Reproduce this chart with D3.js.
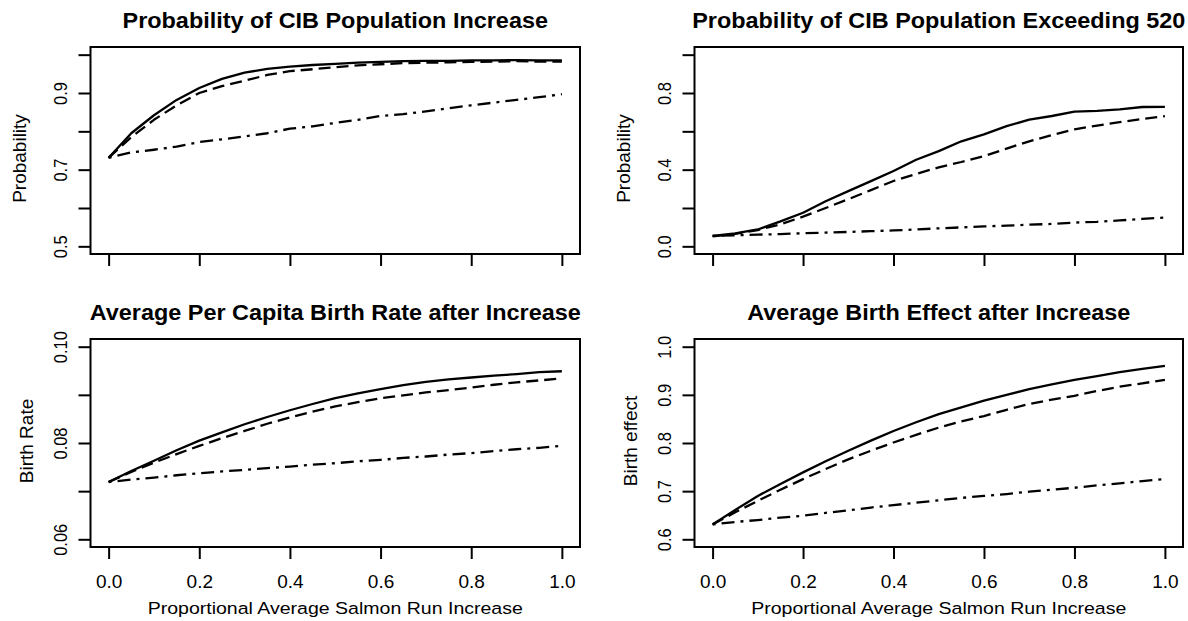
<!DOCTYPE html>
<html>
<head>
<meta charset="utf-8">
<script src="https://cdn.jsdelivr.net/npm/d3@7"></script>
<style>
body { margin: 0; background: #fff; }
svg { display: block; font-family: "Liberation Sans", Arial, Helvetica, sans-serif; }
</style>
</head>
<body>
<svg id="chart" width="1188" height="621"></svg>
<script>
// proportional average salmon run increase
var runIncrease = [0, 0.05, 0.1, 0.15, 0.2, 0.25, 0.3, 0.35, 0.4, 0.45, 0.5,
                   0.55, 0.6, 0.65, 0.7, 0.75, 0.8, 0.85, 0.9, 0.95, 1.0];

// probability of population increase
var incSolid   = [0.731, 0.795, 0.842, 0.882, 0.913, 0.937, 0.953, 0.963, 0.969, 0.973, 0.976,
                  0.979, 0.981, 0.983, 0.984, 0.984, 0.985, 0.985, 0.986, 0.985, 0.985];
var incDashed  = [0.731, 0.785, 0.830, 0.868, 0.900, 0.918, 0.932, 0.947, 0.957, 0.962, 0.967,
                  0.972, 0.975, 0.978, 0.979, 0.980, 0.981, 0.982, 0.983, 0.982, 0.982];
var incDotDash = [0.731, 0.745, 0.752, 0.760, 0.772, 0.779, 0.787, 0.795, 0.807, 0.813, 0.822,
                  0.830, 0.840, 0.845, 0.852, 0.860, 0.868, 0.875, 0.882, 0.889, 0.897];

// probability of exceeding 520
var excSolid   = [0.055, 0.068, 0.088, 0.130, 0.175, 0.235, 0.288, 0.340, 0.393, 0.452, 0.497,
                  0.548, 0.584, 0.627, 0.661, 0.680, 0.703, 0.707, 0.715, 0.727, 0.728];
var excDashed  = [0.052, 0.065, 0.085, 0.115, 0.155, 0.200, 0.246, 0.293, 0.341, 0.378, 0.412,
                  0.440, 0.471, 0.510, 0.548, 0.580, 0.610, 0.630, 0.648, 0.665, 0.679];
var excDotDash = [0.055, 0.058, 0.061, 0.064, 0.068, 0.072, 0.075, 0.079, 0.083, 0.088, 0.094,
                  0.099, 0.104, 0.108, 0.113, 0.117, 0.124, 0.128, 0.135, 0.143, 0.150];

// per capita birth rate
var rateSolid   = [0.0719, 0.0742, 0.0763, 0.0785, 0.0805, 0.0822, 0.0839, 0.0854, 0.0868, 0.0881, 0.0893,
                   0.0903, 0.0912, 0.0920, 0.0927, 0.0932, 0.0936, 0.0940, 0.0943, 0.0947, 0.0949];
var rateDashed  = [0.0719, 0.0740, 0.0759, 0.0777, 0.0794, 0.0810, 0.0825, 0.0840, 0.0853, 0.0865, 0.0876,
                   0.0885, 0.0893, 0.0899, 0.0905, 0.0910, 0.0915, 0.0921, 0.0926, 0.0930, 0.0934];
var rateDotDash = [0.0719, 0.0724, 0.0728, 0.0733, 0.0737, 0.0741, 0.0744, 0.0748, 0.0751, 0.0755, 0.0758,
                   0.0762, 0.0765, 0.0769, 0.0772, 0.0776, 0.0779, 0.0783, 0.0787, 0.0790, 0.0794];

// birth effect
var effSolid   = [0.631, 0.661, 0.690, 0.715, 0.739, 0.762, 0.784, 0.805, 0.825, 0.843, 0.860,
                  0.874, 0.888, 0.900, 0.912, 0.922, 0.931, 0.939, 0.947, 0.954, 0.960];
var effDashed  = [0.631, 0.656, 0.680, 0.703, 0.725, 0.746, 0.766, 0.784, 0.801, 0.817, 0.832,
                  0.845, 0.856, 0.869, 0.881, 0.890, 0.898, 0.908, 0.917, 0.924, 0.931];
var effDotDash = [0.631, 0.636, 0.640, 0.645, 0.649, 0.655, 0.660, 0.666, 0.671, 0.676, 0.681,
                  0.686, 0.690, 0.694, 0.699, 0.703, 0.707, 0.712, 0.716, 0.721, 0.725];

var titles = ["Probability of CIB Population Increase",
              "Probability of CIB Population Exceeding 520",
              "Average Per Capita Birth Rate after Increase",
              "Average Birth Effect after Increase"];
var yTitles = ["Probability", "Probability", "Birth Rate", "Birth effect"];
var xTitle = "Proportional Average Salmon Run Increase";

var xTicks = [0, 0.2, 0.4, 0.6, 0.8, 1.0];
var yLimits = [[0.5, 1.0], [0, 1.0], [0.06, 0.10], [0.6, 1.0]];
var yTicks = [[0.5, 0.6, 0.7, 0.8, 0.9, 1.0],
              [0, 0.2, 0.4, 0.6, 0.8, 1.0],
              [0.06, 0.07, 0.08, 0.09, 0.10],
              [0.6, 0.7, 0.8, 0.9, 1.0]];
var yTickLabels = [[0.5, 0.7, 0.9],
                   [0, 0.4, 0.8],
                   [0.06, 0.08, 0.10],
                   [0.6, 0.7, 0.8, 0.9, 1.0]];
var yFormats = [".1f", ".1f", ".2f", ".1f"];

var series = [[incSolid, incDashed, incDotDash],
              [excSolid, excDashed, excDotDash],
              [rateSolid, rateDashed, rateDotDash],
              [effSolid, effDashed, effDotDash]];

// layout
var boxes = [
    { left: 90.5, right: 580, top: 47, bottom: 254, bottomRow: false },
    { left: 694.5, right: 1183, top: 47, bottom: 254, bottomRow: false },
    { left: 90.5, right: 580, top: 339, bottom: 547, bottomRow: true },
    { left: 694.5, right: 1183, top: 339, bottom: 547, bottomRow: true }
];
var dashes = [null, "12,6", "3,6,13,6"];

function pad(lim) {
    var d = (lim[1] - lim[0]) * 0.04;
    return [lim[0] - d, lim[1] + d];
}

var svg = d3.select("#chart");

boxes.forEach(function (b, i) {
    var x = d3.scaleLinear().domain(pad([0, 1])).range([b.left, b.right]);
    var y = d3.scaleLinear().domain(pad(yLimits[i])).range([b.bottom, b.top]);
    var g = svg.append("g");

    // x axis
    var fx = d3.format(".1f");
    var xa = g.append("g")
        .attr("transform", "translate(0," + b.bottom + ")")
        .call(d3.axisBottom(x).tickValues(xTicks).tickSize(12).tickSizeOuter(0)
            .tickFormat(function (d) { return b.bottomRow ? fx(d) : ""; }));
    xa.select(".domain").remove();
    xa.selectAll(".tick line").attr("stroke", "#000").attr("stroke-width", 2);
    xa.selectAll(".tick text")
        .attr("y", 41).attr("dy", null)
        .attr("fill", "#000")
        .style("font-size", "19px");

    // y axis
    var fy = d3.format(yFormats[i]);
    var shown = yTickLabels[i].map(fy);
    var ya = g.append("g")
        .attr("transform", "translate(" + b.left + ",0)")
        .call(d3.axisLeft(y).tickValues(yTicks[i]).tickSize(12).tickSizeOuter(0)
            .tickFormat(function (d) { var s = fy(d); return shown.indexOf(s) >= 0 ? s : ""; }));
    ya.select(".domain").remove();
    ya.selectAll(".tick line").attr("stroke", "#000").attr("stroke-width", 2);
    ya.selectAll(".tick text")
        .attr("x", null).attr("dy", null)
        .attr("transform", "translate(-24,0) rotate(-90) scale(1,1.12)")
        .attr("text-anchor", "middle")
        .attr("fill", "#000")
        .style("font-size", "16.5px");

    // lines
    var line = d3.line()
        .x(function (d, k) { return x(runIncrease[k]); })
        .y(function (d) { return y(d); });
    series[i].forEach(function (s, k) {
        g.append("path")
            .datum(s)
            .attr("d", line)
            .attr("fill", "none")
            .attr("stroke", "#000")
            .attr("stroke-width", 2.3)
            .attr("stroke-linejoin", "round")
            .attr("stroke-dasharray", dashes[k]);
    });

    // box
    g.append("rect")
        .attr("x", b.left).attr("y", b.top)
        .attr("width", b.right - b.left).attr("height", b.bottom - b.top)
        .attr("fill", "none").attr("stroke", "#000").attr("stroke-width", 2);

    // titles
    var cx = (b.left + b.right) / 2;
    var cy = (b.top + b.bottom) / 2;
    g.append("text")
        .attr("transform", "translate(" + cx + "," + (b.top - 19) + ") scale(1.09,1)")
        .attr("text-anchor", "middle")
        .style("font-size", "21.5px").style("font-weight", "bold")
        .text(titles[i]);

    var yl = b.bottomRow ? { dx: -58, dy: -2 } : { dx: -65, dy: 8 };
    g.append("text")
        .attr("transform", "translate(" + (b.left + yl.dx) + "," + (cy + yl.dy) + ") rotate(-90)")
        .attr("text-anchor", "middle")
        .style("font-size", "19px")
        .text(yTitles[i]);

    if (b.bottomRow) {
        g.append("text")
            .attr("transform", "translate(" + x(0.5) + "," + (b.bottom + 67) + ") scale(1.15,1)")
            .attr("text-anchor", "middle")
            .style("font-size", "17px")
            .text(xTitle);
    }
});
</script>
</body>
</html>
